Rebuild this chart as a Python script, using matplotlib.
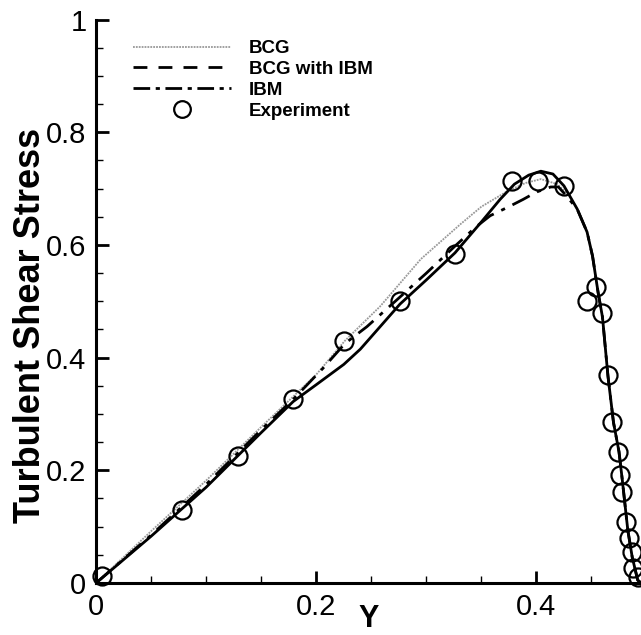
import numpy as np
import matplotlib
matplotlib.use('Agg')
from matplotlib import pyplot as plt
from matplotlib.lines import Line2D
from matplotlib.ticker import MultipleLocator

plt.rcParams['font.family'] = ['Liberation Sans', 'DejaVu Sans']

# --- Data ---
# BCG with IBM (drawn as near-solid black line)
x_bcg_ibm = [0, 0.05, 0.1, 0.15, 0.179, 0.2, 0.225, 0.24, 0.258, 0.276, 0.3, 0.326, 0.35, 0.367,
             0.38, 0.393, 0.404, 0.415, 0.425, 0.437, 0.446, 0.451, 0.456, 0.46, 0.465,
             0.47, 0.475, 0.478, 0.483, 0.487, 0.492, 0.495]
y_bcg_ibm = [0, 0.083, 0.17, 0.267, 0.322, 0.352, 0.388, 0.415, 0.455, 0.495, 0.538, 0.586, 0.641, 0.681,
             0.708, 0.724, 0.731, 0.726, 0.705, 0.664, 0.623, 0.58, 0.516, 0.472, 0.367,
             0.285, 0.233, 0.183, 0.094, 0.046, 0.005, 0]

# IBM (dash-dot)
x_ibm = [0, 0.05, 0.1, 0.15, 0.179, 0.206, 0.226, 0.246, 0.274, 0.3, 0.326, 0.345, 0.358,
         0.375, 0.388, 0.4, 0.413, 0.42, 0.426, 0.437, 0.446, 0.451, 0.456, 0.46, 0.465,
         0.47, 0.475, 0.478, 0.483, 0.487, 0.492, 0.495]
y_ibm = [0, 0.085, 0.175, 0.272, 0.326, 0.381, 0.425, 0.455, 0.504, 0.55, 0.598, 0.632, 0.652,
         0.668, 0.681, 0.694, 0.703, 0.703, 0.69, 0.664, 0.623, 0.58, 0.516, 0.472, 0.367,
         0.285, 0.233, 0.183, 0.094, 0.046, 0.005, 0]

# BCG (thin grey dotted)
x_bcg = [0, 0.05, 0.1, 0.15, 0.2, 0.226, 0.258, 0.295, 0.331, 0.35, 0.374, 0.39, 0.404,
         0.419, 0.43, 0.437, 0.446, 0.451, 0.456, 0.46, 0.465, 0.47, 0.475, 0.478, 0.483,
         0.487, 0.492, 0.495]
y_bcg = [0, 0.092, 0.182, 0.277, 0.37, 0.43, 0.491, 0.575, 0.637, 0.668, 0.696, 0.71, 0.717,
         0.708, 0.688, 0.664, 0.623, 0.58, 0.516, 0.472, 0.367, 0.285, 0.233, 0.183, 0.094,
         0.046, 0.005, 0]

# Experiment
x_exp = [0.005, 0.078, 0.129, 0.179, 0.225, 0.276, 0.326, 0.378, 0.401, 0.425, 0.446,
         0.454, 0.460, 0.465, 0.469, 0.474, 0.476, 0.478, 0.481, 0.484, 0.487, 0.488, 0.492]
y_exp = [0.012, 0.130, 0.226, 0.326, 0.429, 0.500, 0.584, 0.714, 0.714, 0.705, 0.500,
         0.525, 0.480, 0.370, 0.286, 0.233, 0.192, 0.162, 0.109, 0.080, 0.055, 0.027, 0.011]

fig = plt.figure(figsize=(6.41, 6.35), dpi=100)
ax = fig.add_axes([0.150, 0.082, 0.850, 0.887])

ax.plot(x_bcg, y_bcg, color='#999999', linestyle=(0, (1, 0.6)), linewidth=1.3)
ax.plot(x_bcg_ibm, y_bcg_ibm, color='black', linestyle='-', linewidth=2.0)
ax.plot(x_ibm, y_ibm, color='black', linestyle=(0, (7, 3, 1.5, 3)), linewidth=2.0)
ax.plot(x_exp, y_exp, linestyle='none', marker='o', markersize=13, markerfacecolor='none',
        markeredgecolor='black', markeredgewidth=1.6, clip_on=False, zorder=5)

ax.set_xlim(0, 0.495)
ax.set_ylim(0, 1)
ax.xaxis.set_minor_locator(MultipleLocator(0.05))
ax.yaxis.set_minor_locator(MultipleLocator(0.05))
ax.set_xticks([0, 0.2, 0.4])
ax.set_xticklabels(['0', '0.2', '0.4'])
ax.set_yticks([0, 0.2, 0.4, 0.6, 0.8, 1])
ax.set_yticklabels(['0', '0.2', '0.4', '0.6', '0.8', '1'])

ax.spines['top'].set_visible(False)
ax.spines['right'].set_visible(False)
ax.spines['left'].set_linewidth(2.2)
ax.spines['bottom'].set_linewidth(2.2)
ax.tick_params(which='major', direction='in', length=9, width=2, labelsize=21, pad=7)
ax.tick_params(which='minor', direction='in', length=5, width=1)

ax.set_xlabel('Y', fontsize=22, fontweight='bold')
ax.xaxis.set_label_coords(0.5, -0.038)
ax.set_ylabel('Turbulent Shear Stress', fontsize=26, fontweight='bold')
ax.yaxis.set_label_coords(-0.088, 0.458)

handles = [
    Line2D([], [], color='#999999', linestyle=(0, (1, 0.6)), linewidth=1.3),
    Line2D([], [], color='black', linestyle=(0, (5, 4)), linewidth=2.0),
    Line2D([], [], color='black', linestyle=(0, (6, 2, 1.5, 2)), linewidth=2.0),
    Line2D([], [], color='black', linestyle='none', marker='o', markersize=12,
           markerfacecolor='none', markeredgewidth=1.6),
]
labels = ['BCG', 'BCG with IBM', 'IBM', 'Experiment']
leg = ax.legend(handles, labels, loc='upper left', bbox_to_anchor=(0.068, 0.964),
                frameon=False, borderpad=0, borderaxespad=0, handlelength=5.2,
                handletextpad=0.95, labelspacing=0.2,
                prop={'weight': 'bold', 'size': 13.5})

fig.savefig('out.png', dpi=100)
